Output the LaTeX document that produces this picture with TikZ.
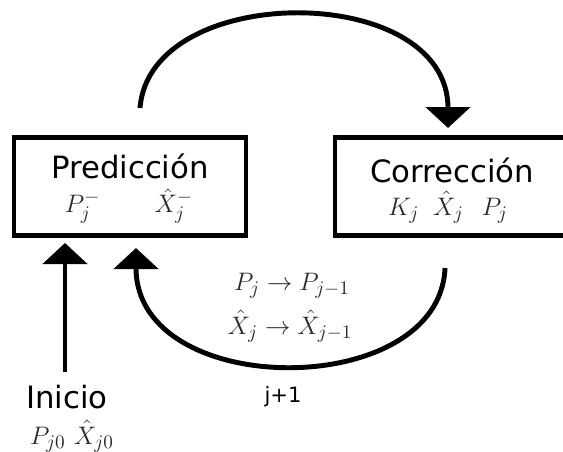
\documentclass[tikz,border=0pt]{standalone}
\usepackage{fontspec}
\usepackage{xcolor}
\usetikzlibrary{arrows.meta}
\newfontfamily\kflabel{DejaVu Sans}
\definecolor{KFLine}{HTML}{000000}
\definecolor{KFMath}{HTML}{2A2A2A}

\tikzset{
  stagebox/.style={draw=KFLine,line width=2.3pt,minimum width=#1,minimum height=1.96cm,inner sep=0pt},
  stagetitle/.style={inner sep=0pt,font=\kflabel\fontsize{17.5}{21}\selectfont},
  mathlbl/.style={inner sep=0pt,text=KFMath,font=\fontsize{15.5}{18}\selectfont},
  flow/.style={draw=KFLine,line width=2.8pt,-{Triangle[width=0.88cm,length=0.42cm]}}
}

\begin{document}
\begin{tikzpicture}[x=1cm,y=1cm]
\clip (0,0) rectangle (11.26,9.02);
\path[use as bounding box] (0,0) rectangle (11.26,9.02);
% stages
\node[stagebox=4.64cm] (pred) at (2.60,5.29) {};
\node[stagetitle] (predT) at (2.60,5.70) {Predicción};
\node[mathlbl] (predM) at (2.58,4.90) {$P_j^-\qquad\hat{X}_j^-$};
\node[stagebox=5.25cm] (corr) at (9.33,5.29) {};
\node[stagetitle] (corrT) at (9.04,5.62) {Corrección};
\node[mathlbl] (corrM) at (8.96,4.88) {$K_j\;\;\hat{X}_j\;\;\,P_j$};
% start
\node[stagetitle] (init) at (1.34,1.08) {Inicio};
\node[mathlbl] (initM) at (1.44,0.30) {$P_{j0}\ \hat{X}_{j0}$};
% update labels
\node[mathlbl] (updP) at (5.84,3.30) {$P_j \rightarrow P_{j-1}$};
\node[mathlbl] (updX) at (5.80,2.50) {$\hat{X}_j \rightarrow \hat{X}_{j-1}$};
\node[inner sep=0pt,font=\kflabel\fontsize{12}{14}\selectfont] (step) at (5.66,1.08) {j+1};
% connectors
\coordinate (topS) at (2.80,6.86);
\coordinate (topE) at (8.96,6.46);
\coordinate (botS) at (8.90,3.66);
\coordinate (botE) at (2.72,4.06);
\coordinate (initS) at (1.30,1.58);
\coordinate (initE) at (1.30,4.16);
\draw[flow] (topS) .. controls (3.00,9.40) and (8.96,9.40) .. (topE);
\draw[flow] (botS) .. controls (8.80,1.00) and (2.72,1.00) .. (botE);
\draw[flow] (initS) -- (initE);
\end{tikzpicture}
\end{document}
